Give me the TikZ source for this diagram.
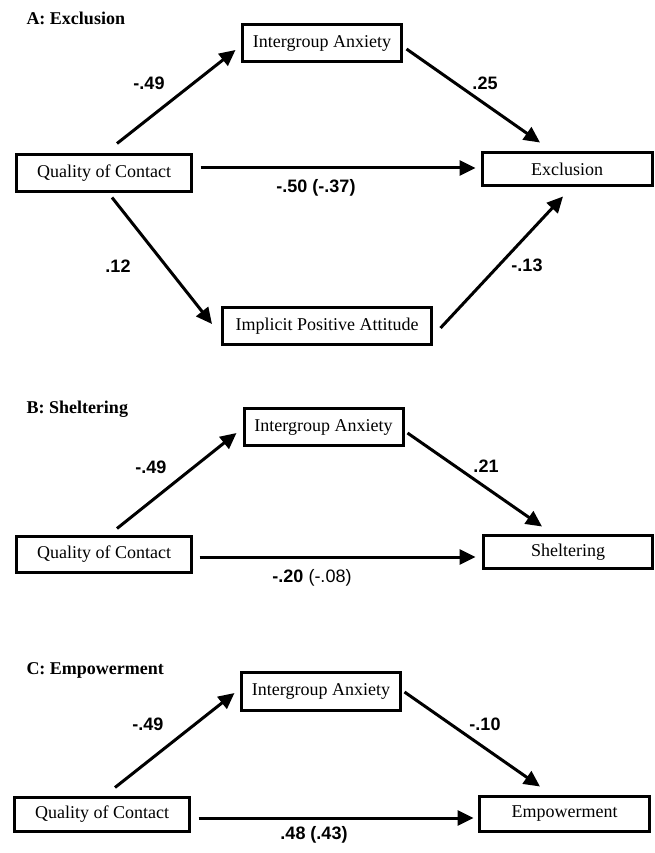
\documentclass[tikz,border=0pt]{standalone}
\usepackage{fontspec}
\setmainfont{Liberation Serif}
\newfontfamily\coeffont{Liberation Sans}
\usetikzlibrary{arrows.meta}

\begin{document}
\begin{tikzpicture}[x=1pt,y=-1pt,-,>={Triangle[length=16pt,width=15pt]},line width=3pt,
  box/.style={draw,rectangle,inner sep=0pt,font=\fontsize{18}{21}\selectfont},
  coef/.style={inner sep=0pt,font=\coeffont\bfseries\fontsize{18}{21}\selectfont},
  panel/.style={anchor=west,inner sep=0pt,font=\bfseries\fontsize{18}{21}\selectfont}]

  \useasboundingbox (0,0) rectangle (655,853);

  % A: Exclusion
  \node[panel] (ta) at (25,18) {A: Exclusion};
  \node[box,minimum width=159pt,minimum height=37pt] (ia) at (322,43.5) {Intergroup Anxiety};
  \node[box,minimum width=175pt,minimum height=37pt] (qa) at (104,173) {Quality of Contact};
  \node[box,minimum width=170pt,minimum height=32pt] (ex) at (567,169) {Exclusion};
  \node[box,minimum width=209pt,minimum height=37pt] (ip) at (327,326) {Implicit Positive Attitude};

  \node[coef] (a49) at (149,83) {-.49};
  \node[coef] (a25) at (485,83) {.25};
  \node[coef] (a50) at (316,188) {-.50 (-.37)};
  \node[coef] (a12) at (118,266) {.12};
  \node[coef] (a13) at (527,265) {-.13};

  \path[->]
    ([shift={(13pt,9.5pt)}]qa.north) edge ([shift={(-5.5pt,-6.5pt)}]ia.west)
    ([shift={(3.5pt,-5.5pt)}]ia.east) edge ([shift={(-27pt,9pt)}]ex.north)
    ([shift={(7.5pt,5pt)}]qa.east) edge ([shift={(-5pt,1pt)}]ex.west)
    ([shift={(8pt,-4.5pt)}]qa.south) edge ([shift={(-9pt,2pt)}]ip.west)
    ([shift={(7.5pt,-2pt)}]ip.east) edge ([shift={(-4pt,-10pt)}]ex.south);

  % B: Sheltering
  \node[panel] (tb) at (25,409) {B: Sheltering};
  \node[box,minimum width=159pt,minimum height=37pt] (ib) at (323.5,427) {Intergroup Anxiety};
  \node[box,minimum width=175pt,minimum height=36.5pt] (qb) at (104,554.5) {Quality of Contact};
  \node[box,minimum width=169pt,minimum height=33pt] (sh) at (568,552) {Sheltering};

  \node[coef] (b49) at (151,467) {-.49};
  \node[coef] (b21) at (486,466) {.21};
  \node[coef] (b20) at (312,578) {-.20 {\mdseries(-.08)}};

  \path[->]
    ([shift={(13pt,6.25pt)}]qb.north) edge ([shift={(-6pt,-6pt)}]ib.west)
    ([shift={(3pt,-6pt)}]ib.east) edge ([shift={(-26pt,7.5pt)}]sh.north)
    ([shift={(6.5pt,-2.5pt)}]qb.east) edge ([shift={(-6.5pt,-5pt)}]sh.west);

  % C: Empowerment
  \node[panel] (tc) at (25,670) {C: Empowerment};
  \node[box,minimum width=159pt,minimum height=38pt] (ic) at (321,691.5) {Intergroup Anxiety};
  \node[box,minimum width=175pt,minimum height=34pt] (qc) at (102,814.5) {Quality of Contact};
  \node[box,minimum width=170pt,minimum height=35pt] (em) at (564.5,814) {Empowerment};

  \node[coef] (c49) at (148,724) {-.49};
  \node[coef] (c10) at (485,724) {-.10};
  \node[coef] (c48) at (314,835) {.48 (.43)};

  \path[->]
    ([shift={(13pt,8.5pt)}]qc.north) edge ([shift={(-5.5pt,-1.5pt)}]ic.west)
    ([shift={(2.5pt,-0.5pt)}]ic.east) edge ([shift={(-24.5pt,8.5pt)}]em.north)
    ([shift={(7.5pt,-3.5pt)}]qc.east) edge ([shift={(-4.5pt,-4pt)}]em.west);

\end{tikzpicture}
\end{document}
